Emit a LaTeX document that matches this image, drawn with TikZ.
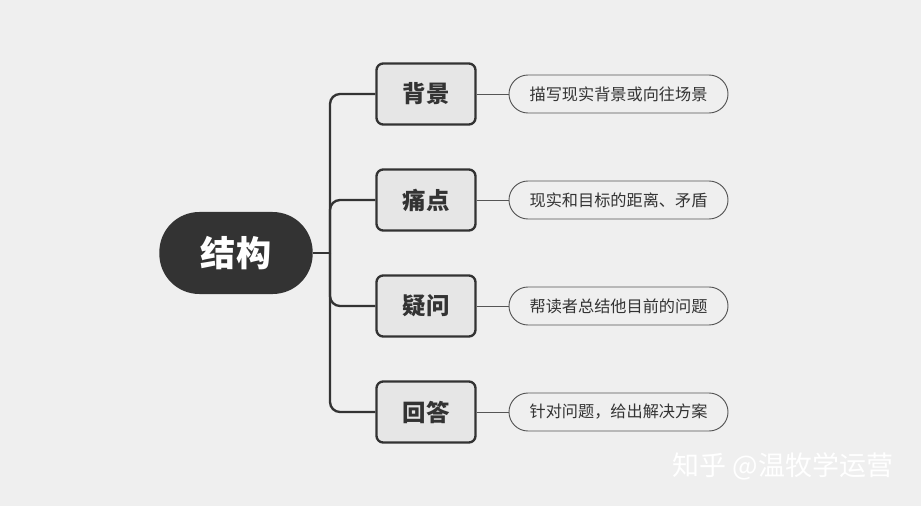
\documentclass[tikz,border=0pt]{standalone}
\usepackage{fontspec}
\setmainfont{Noto Sans CJK SC}
\usepackage{tikz}
\definecolor{bg-gray}{HTML}{EFEFEF}
\definecolor{box-gray}{HTML}{E6E6E6}
\definecolor{dark-gray}{HTML}{333333}
\definecolor{line-gray}{HTML}{555555}
\tikzset{
  rootbox/.style={fill=dark-gray, text=white, rounded corners=1.2cm, minimum width=4.6cm, minimum height=2.46cm, font=\bfseries\fontsize{30}{30}\selectfont},
  topicbox/.style={draw=dark-gray, line width=2pt, fill=box-gray, rounded corners=0.2cm, minimum width=2.97cm, minimum height=1.83cm, font=\bfseries\fontsize{20}{20}\selectfont, text=dark-gray},
  leafbox/.style={draw=line-gray, line width=0.8pt, fill=bg-gray, rounded corners=0.57cm, minimum width=6.57cm, minimum height=1.14cm, font=\fontsize{13.8}{13.8}\selectfont, text=dark-gray},
}
\begin{document}
\begin{tikzpicture}[x=0.03cm, y=-0.03cm]
		% background
		\fill[bg-gray] (0,0) rectangle (921,506);
		\useasboundingbox (0,0) rectangle (921,506);
		
		% root
		\node (root) [rootbox] at (236,253) {结构};
		
		% topics
		\node (bg) [topicbox] at (426,94) {背景};
		\node (pain) [topicbox] at (426,200) {痛点};
		\node (ques) [topicbox] at (426,306) {疑问};
		\node (ans) [topicbox] at (426,412) {回答};
		
		% leaves
		\node (bgleaf) [leafbox] at (618.5,94) {描写现实背景或向往场景};
		\node (painleaf) [leafbox] at (618.5,200) {现实和目标的距离、矛盾};
		\node (quesleaf) [leafbox] at (618.5,306) {帮读者总结他目前的问题};
		\node (ansleaf) [leafbox] at (618.5,412) {针对问题，给出解决方案};
		
		% trunk
		\coordinate (hub) at (330,253);
		\draw[dark-gray, line width=2pt] (root.east) -- (hub);
		\foreach \t in {bg,pain,ques,ans}
			\draw[dark-gray, line width=2pt, rounded corners=0.3cm] (hub) |- (\t.west);
		
		% leaf links
		\foreach \t in {bg,pain,ques,ans}
			\draw[line-gray, line width=0.8pt] (\t.east) -- (\t leaf.west);
		
		% watermark
		\node (mark) [text=white, font=\fontsize{23}{23}\selectfont] at (783,466) {知乎 @温牧学运营};
\end{tikzpicture}
\end{document}
